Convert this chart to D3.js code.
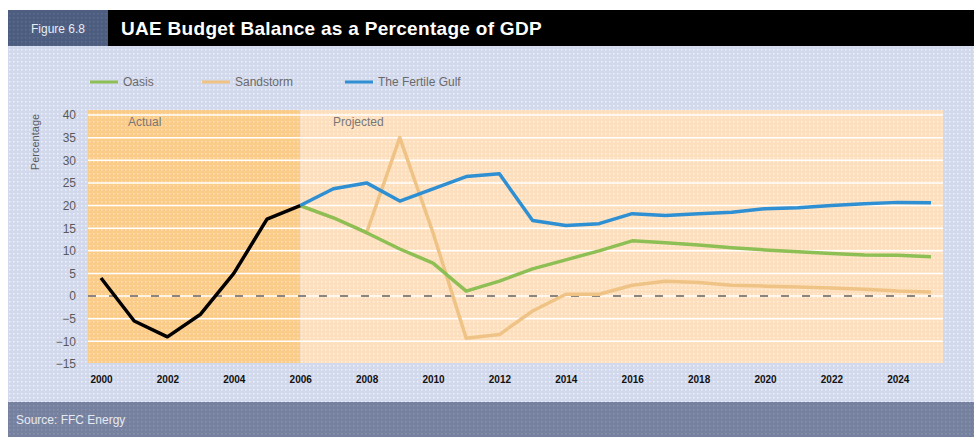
<!DOCTYPE html>
<html lang="en">

<head>
    <meta charset="UTF-8">
    <title>UAE Budget Balance</title>
    <script src="https://d3js.org/d3.v7.min.js"></script>
    <style>
        body {
            margin: 0;
            background: #fff;
            font-family: "Liberation Sans", Arial, sans-serif;
        }
        .ytick {
            font-size: 12px;
            fill: #5a5a5a;
        }
        .xtick {
            font-size: 10px;
            font-weight: bold;
            fill: #111;
        }
        .legend {
            font-size: 12px;
            fill: #6a6a6a;
        }
    </style>
</head>

<body>
    <div id="container"></div>
    <script>
        /*------------------- data --------------------*/
        const actualYears = [2000, 2001, 2002, 2003, 2004, 2005, 2006]
        const actualValues = [4, -5.5, -9, -4, 5, 17, 20]

        const projYears = [2006, 2007, 2008, 2009, 2010, 2011, 2012, 2013, 2014, 2015, 2016,
            2017, 2018, 2019, 2020, 2021, 2022, 2023, 2024, 2025]
        const oasis = [20, 17.3, 14, 10.4, 7.3, 1.1, 3.3, 6, 8, 10, 12.2,
            11.8, 11.3, 10.7, 10.2, 9.8, 9.4, 9.1, 9, 8.7]
        const sandstorm = [20, 17.3, 14, 35, 14, -9.3, -8.5, -3.3, 0.4, 0.4, 2.4,
            3.3, 3, 2.4, 2.2, 2, 1.8, 1.5, 1.1, 0.9]
        const fertileGulf = [20, 23.7, 25, 21, 23.7, 26.4, 27, 16.7, 15.6, 16, 18.2,
            17.8, 18.2, 18.5, 19.3, 19.5, 20, 20.4, 20.7, 20.6]

        const yTicks = [40, 35, 30, 25, 20, 15, 10, 5, 0, -5, -10, -15]
        const xTicks = [2000, 2002, 2004, 2006, 2008, 2010, 2012, 2014, 2016, 2018, 2020, 2022, 2024]

        const seriesNames = ["Oasis", "Sandstorm", "The Fertile Gulf"]
        const seriesColors = ["#8dbf55", "#efc385", "#2e8fd3"]

        /*------------------- window --------------------*/
        const W = 974, H = 437
        const plot = { left: 88, right: 943, top: 110, bottom: 363 }

        const svg = d3.select("#container").append("svg")
            .attr("width", W)
            .attr("height", H)

        // dotted print textures
        const defs = svg.append("defs")
        function dots(id, base, dot) {
            const p = defs.append("pattern").attr("id", id)
                .attr("width", 4).attr("height", 4).attr("patternUnits", "userSpaceOnUse")
            p.append("rect").attr("width", 4).attr("height", 4).attr("fill", base)
            p.append("rect").attr("x", 1).attr("y", 1).attr("width", 1.5).attr("height", 1.5).attr("fill", dot)
        }
        dots("bgDots", "#d3d9ec", "#eef1f8")
        dots("actDots", "#fbcb88", "#fde2bc")
        dots("projDots", "#fddfbd", "#fff2e2")
        dots("footDots", "#76819f", "#8893b0")
        dots("tabDots", "#4c5d7f", "#5d6d8d")

        // background panels
        svg.append("rect").attr("x", 8).attr("y", 46).attr("width", W - 8).attr("height", 356)
            .attr("fill", "url(#bgDots)")
        svg.append("rect").attr("x", 8).attr("y", 10).attr("width", 100).attr("height", 36)
            .attr("fill", "url(#tabDots)")
        svg.append("rect").attr("x", 108).attr("y", 10).attr("width", W - 108).attr("height", 36)
            .attr("fill", "#000")
        svg.append("text").attr("x", 58).attr("y", 33).attr("text-anchor", "middle")
            .attr("fill", "#e8ecf4").attr("font-size", 12).text("Figure 6.8")
        svg.append("text").attr("x", 121).attr("y", 35)
            .attr("fill", "#fff").attr("font-size", 19).attr("font-weight", "bold")
            .attr("letter-spacing", 0.3)
            .text("UAE Budget Balance as a Percentage of GDP")
        svg.append("rect").attr("x", 8).attr("y", 402).attr("width", W - 8).attr("height", 35)
            .attr("fill", "url(#footDots)")
        svg.append("text").attr("x", 16).attr("y", 424)
            .attr("fill", "#e6e9f2").attr("font-size", 12).text("Source: FFC Energy")

        /*------------------- scales --------------------*/
        const x = d3.scaleLinear().domain([2000, 2025]).range([101, 931])
        const y = d3.scaleLinear().domain([-15, 40]).range([364, 115])

        // actual / projected shading
        svg.append("rect").attr("x", plot.left).attr("y", plot.top)
            .attr("width", x(2006) - plot.left).attr("height", plot.bottom - plot.top)
            .attr("fill", "url(#actDots)")
        svg.append("rect").attr("x", x(2006)).attr("y", plot.top)
            .attr("width", plot.right - x(2006)).attr("height", plot.bottom - plot.top)
            .attr("fill", "url(#projDots)")

        // white grid lines
        svg.append("g").selectAll("line")
            .data(yTicks.filter(d => d > -15))
            .enter().append("line")
            .attr("x1", plot.left).attr("x2", plot.right)
            .attr("y1", d => y(d)).attr("y2", d => y(d))
            .attr("stroke", "#fff").attr("stroke-width", 1.5)

        // zero line
        svg.append("line")
            .attr("x1", plot.left).attr("x2", x(2025))
            .attr("y1", y(0)).attr("y2", y(0))
            .attr("stroke", "#8a8580").attr("stroke-width", 2)
            .attr("stroke-dasharray", "8,13")

        /*------------------- axes --------------------*/
        const yAxis = d3.axisLeft(y).tickValues(yTicks).tickSize(0).tickPadding(0)
        const gy = svg.append("g").attr("transform", `translate(76,0)`).call(yAxis)
        gy.select(".domain").remove()
        gy.selectAll("text").attr("class", "ytick").attr("font-family", null).attr("font-size", null)

        const xAxis = d3.axisBottom(x).tickValues(xTicks).tickFormat(d3.format("d")).tickSize(0).tickPadding(0)
        const gx = svg.append("g").attr("transform", `translate(0,376)`).call(xAxis)
        gx.select(".domain").remove()
        gx.selectAll("text").attr("class", "xtick").attr("font-family", null).attr("font-size", null)

        svg.append("text")
            .attr("transform", `translate(39,142) rotate(-90)`)
            .attr("text-anchor", "middle")
            .attr("font-size", 11).attr("fill", "#5a5a5a")
            .text("Percentage")

        svg.append("text").attr("x", 128).attr("y", 126).attr("font-size", 12).attr("fill", "#777").text("Actual")
        svg.append("text").attr("x", 333).attr("y", 126).attr("font-size", 12).attr("fill", "#777").text("Projected")

        /*------------------- lines --------------------*/
        const line = d3.line()
            .x(d => x(d[0]))
            .y(d => y(d[1]))

        const projSeries = [oasis, sandstorm, fertileGulf]
        // draw sandstorm first so green and blue sit on top
        const drawOrder = [1, 0, 2]
        drawOrder.forEach(i => {
            svg.append("path")
                .datum(projYears.map((yr, j) => [yr, projSeries[i][j]]))
                .attr("d", line)
                .attr("fill", "none")
                .attr("stroke", seriesColors[i])
                .attr("stroke-width", 3.5)
                .attr("stroke-linejoin", "round")
        })

        svg.append("path")
            .datum(actualYears.map((yr, j) => [yr, actualValues[j]]))
            .attr("d", line)
            .attr("fill", "none")
            .attr("stroke", "#000")
            .attr("stroke-width", 3.5)
            .attr("stroke-linejoin", "round")

        /*------------------- legend --------------------*/
        const legendX = [90, 202, 345]
        seriesNames.forEach((name, i) => {
            svg.append("line")
                .attr("x1", legendX[i]).attr("x2", legendX[i] + 28)
                .attr("y1", 82).attr("y2", 82)
                .attr("stroke", seriesColors[i]).attr("stroke-width", 3)
            svg.append("text").attr("class", "legend")
                .attr("x", legendX[i] + 33).attr("y", 86)
                .text(name)
        })
    </script>
</body>

</html>
